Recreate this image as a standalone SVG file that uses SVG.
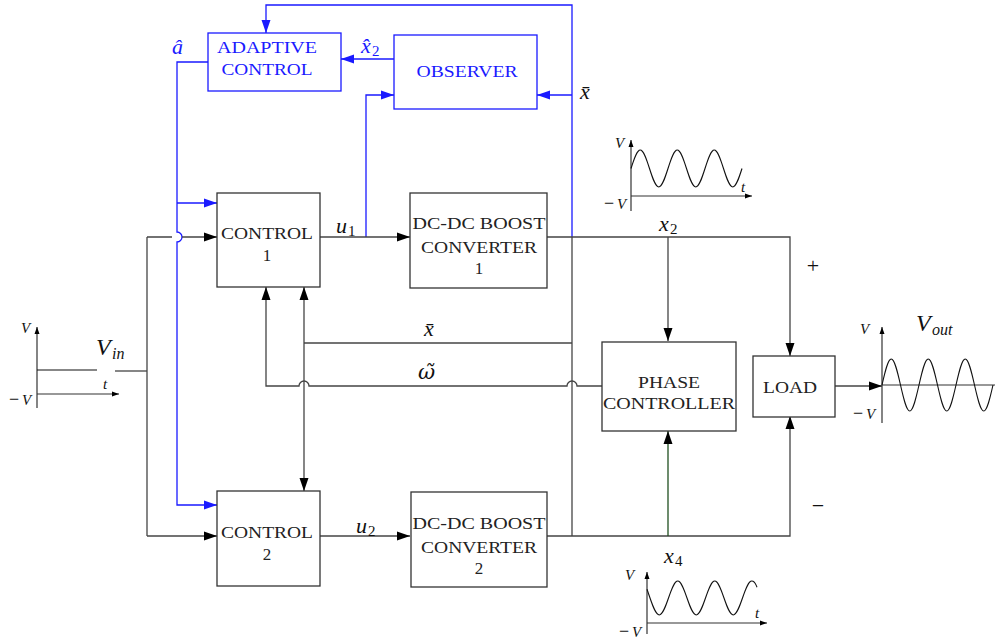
<svg xmlns="http://www.w3.org/2000/svg" width="995" height="642" viewBox="0 0 995 642">
<style>
.box{fill:#fff;stroke:#333;stroke-width:1.3}
.bbox{fill:#fff;stroke:#1a1aff;stroke-width:1.3}
.lbl{font-family:"Liberation Serif","DejaVu Serif",serif;font-size:17px;fill:#222;text-anchor:middle}
.blbl{font-family:"Liberation Serif","DejaVu Serif",serif;font-size:17px;fill:#1a1aff;text-anchor:middle}
.ln{fill:none;stroke:#444;stroke-width:1.3}
.bln{fill:none;stroke:#1a1aff;stroke-width:1.3}
.gln{fill:none;stroke:#1f4f1f;stroke-width:1.3}
.ax{fill:none;stroke:#333;stroke-width:1.2}
.wv{fill:none;stroke:#111;stroke-width:1.1}
.m{font-family:"Liberation Serif","DejaVu Serif",serif;font-style:italic;fill:#111}
.mb{font-family:"Liberation Serif","DejaVu Serif",serif;font-style:italic;fill:#1a1aff}
.sub{font-family:"Liberation Serif","DejaVu Serif",serif;fill:#111}
.subb{font-family:"Liberation Serif","DejaVu Serif",serif;fill:#1a1aff}
</style>
<defs>
<marker id="ak" markerUnits="userSpaceOnUse" markerWidth="14" markerHeight="10" refX="13" refY="5" orient="auto"><path d="M0,0.5 L13,5 L0,9.5 z" fill="#000"/></marker>
<marker id="ab" markerUnits="userSpaceOnUse" markerWidth="14" markerHeight="10" refX="13" refY="5" orient="auto"><path d="M0,0.5 L13,5 L0,9.5 z" fill="#1a1aff"/></marker>
<marker id="as" markerUnits="userSpaceOnUse" markerWidth="8" markerHeight="6" refX="7" refY="3" orient="auto"><path d="M0,0.5 L7,3 L0,5.5 z" fill="#000"/></marker>
</defs>

<g id="connectors">
<path class="bln" d="M572,237 V5 H266 V33" marker-end="url(#ab)"/>
<path class="bln" d="M572,95 H537" marker-end="url(#ab)"/>
<path class="bln" d="M394,59 H341" marker-end="url(#ab)"/>
<path class="bln" d="M366,237 V95 H394" marker-end="url(#ab)"/>
<path class="bln" d="M208,62 H177 V232 A5,5 0 0 1 177,242 V505 H217" marker-end="url(#ab)"/>
<path class="bln" d="M177,203 H217" marker-end="url(#ab)"/>
<path class="ln" d="M115,371 H147"/>
<path class="ln" d="M147,237 V536"/>
<path class="ln" d="M147,237 H172 M182,237 H217" marker-end="url(#ak)"/>
<path class="ln" d="M147,536 H217" marker-end="url(#ak)"/>
<path class="ln" d="M320,237 H410" marker-end="url(#ak)"/>
<path class="ln" d="M320,536 H410" marker-end="url(#ak)"/>
<path class="ln" d="M547,237 H790 V356" marker-end="url(#ak)"/>
<path class="ln" d="M668,237 V341" marker-end="url(#ak)"/>
<path class="ln" d="M547,536 H790 V416" marker-end="url(#ak)"/>
<path class="gln" d="M668,536 V431" marker-end="url(#ak)"/>
<path class="ln" d="M572,536 V237"/>
<path class="ln" d="M572,343 H304"/>
<path class="ln" d="M304,343 V287" marker-end="url(#ak)"/>
<path class="ln" d="M304,343 V491" marker-end="url(#ak)"/>
<path class="ln" d="M602,386 H577 A5,5 0 0 0 567,386 H309 A5,5 0 0 0 299,386 H266 V287" marker-end="url(#ak)"/>
<path class="ln" d="M835,386 H882" marker-end="url(#ak)"/>
</g>

<g id="adaptive-control">
<rect class="bbox" x="208" y="33" width="133" height="58"/>
<text class="blbl" x="267" y="53" textLength="100" lengthAdjust="spacingAndGlyphs">ADAPTIVE</text>
<text class="blbl" x="267" y="75" textLength="91" lengthAdjust="spacingAndGlyphs">CONTROL</text>
</g>
<g id="observer">
<rect class="bbox" x="394" y="35" width="143" height="74"/>
<text class="blbl" x="467" y="77" textLength="101" lengthAdjust="spacingAndGlyphs">OBSERVER</text>
</g>
<g id="control1">
<rect class="box" x="217" y="193" width="103" height="94"/>
<text class="lbl" x="267" y="239" textLength="92" lengthAdjust="spacingAndGlyphs">CONTROL</text>
<text class="lbl" x="267" y="261">1</text>
</g>
<g id="converter1">
<rect class="box" x="410" y="193" width="137" height="95"/>
<text class="lbl" x="479" y="229" textLength="133" lengthAdjust="spacingAndGlyphs">DC-DC BOOST</text>
<text class="lbl" x="479" y="253" textLength="116" lengthAdjust="spacingAndGlyphs">CONVERTER</text>
<text class="lbl" x="479" y="274">1</text>
</g>
<g id="control2">
<rect class="box" x="217" y="491" width="103" height="95"/>
<text class="lbl" x="267" y="538" textLength="92" lengthAdjust="spacingAndGlyphs">CONTROL</text>
<text class="lbl" x="267" y="560">2</text>
</g>
<g id="converter2">
<rect class="box" x="411" y="492" width="136" height="95"/>
<text class="lbl" x="479" y="529" textLength="133" lengthAdjust="spacingAndGlyphs">DC-DC BOOST</text>
<text class="lbl" x="479" y="553" textLength="116" lengthAdjust="spacingAndGlyphs">CONVERTER</text>
<text class="lbl" x="479" y="574">2</text>
</g>
<g id="phase-controller">
<rect class="box" x="602" y="342" width="134" height="89"/>
<text class="lbl" x="669" y="388" textLength="62" lengthAdjust="spacingAndGlyphs">PHASE</text>
<text class="lbl" x="669" y="409" textLength="132" lengthAdjust="spacingAndGlyphs">CONTROLLER</text>
</g>
<g id="load">
<rect class="box" x="753" y="356" width="82" height="61"/>
<text class="lbl" x="790" y="393" textLength="54" lengthAdjust="spacingAndGlyphs">LOAD</text>
</g>

<g id="labels">
<text class="mb" x="172" y="54" font-size="22">â</text>
<text class="mb" x="361" y="53" font-size="22">x̂</text><text class="subb" x="372" y="56" font-size="15">2</text>
<text class="m" x="580" y="99" font-size="22">x̄</text>
<text class="m" x="336" y="233" font-size="22">u</text><text class="sub" x="348" y="236" font-size="15">1</text>
<text class="m" x="659" y="231" font-size="22">x</text><text class="sub" x="670" y="234" font-size="15">2</text>
<text class="m" x="424" y="336" font-size="22">x̄</text>
<text x="418" y="379" font-size="21" font-style="italic" font-family="DejaVu Serif, serif" fill="#111">ω̃</text>
<text class="m" x="356" y="533" font-size="22">u</text><text class="sub" x="368" y="536" font-size="15">2</text>
<text class="m" x="664" y="563" font-size="22">x</text><text class="sub" x="675" y="566" font-size="15">4</text>
<text class="sub" x="813" y="273" font-size="22" text-anchor="middle">+</text>
<text class="sub" x="818" y="513" font-size="22" text-anchor="middle">−</text>
</g>

<g id="vin-wave">
<path class="ax" d="M37,408 V327" marker-end="url(#as)"/>
<path class="ax" d="M37,394 H119" marker-end="url(#as)"/>
<path class="wv" d="M37,370 H97"/>
<text class="m" x="21" y="333" font-size="15">V</text>
<text class="m" x="103" y="389" font-size="15">t</text>
<text class="sub" x="9" y="405" font-size="18">−</text><text class="m" x="22" y="405" font-size="15">V</text>
<text class="m" x="96" y="355" font-size="24">V</text><text class="m" x="112" y="359" font-size="16">in</text>
</g>

<g id="x2-wave">
<path class="ax" d="M631,211 V140" marker-end="url(#as)"/>
<path class="ax" d="M631,196 H752" marker-end="url(#as)"/>
<path class="wv" d="M631,168.5 C634.09,158.79 636.92,150 640.25,150 S646.41,158.79 649.5,168.5 S655.42,187 658.75,187 S664.91,178.21 668,168.5 S673.92,150 677.25,150 S683.41,158.79 686.5,168.5 S692.42,187 695.75,187 S701.91,178.21 705,168.5 S710.92,150 714.25,150 S720.41,158.79 723.5,168.5 S729.42,187 732.75,187 S738.91,178.21 742,168.5"/>
<text class="m" x="615" y="148" font-size="15">V</text>
<text class="m" x="741" y="192" font-size="15">t</text>
<text class="sub" x="604" y="209" font-size="18">−</text><text class="m" x="617" y="209" font-size="15">V</text>
</g>

<g id="vout-wave">
<path class="ax" d="M882,423 V327" marker-end="url(#as)"/>
<path class="ax" d="M882,385 H995"/>
<path class="wv" d="M882,385 C885.09,371.35 887.92,359 891.25,359 S897.41,371.35 900.5,385 S906.42,411 909.75,411 S915.91,398.65 919,385 S924.92,359 928.25,359 S934.41,371.35 937.5,385 S943.42,411 946.75,411 S952.91,398.65 956,385 S961.92,359 965.25,359 S971.41,371.35 974.5,385 S980.42,411 983.75,411 S989.91,398.65 993,385"/>
<text class="m" x="860" y="334" font-size="15">V</text>
<text class="sub" x="853" y="419" font-size="18">−</text><text class="m" x="866" y="419" font-size="15">V</text>
<text class="m" x="916" y="331" font-size="24">V</text><text class="m" x="932" y="335" font-size="16">out</text>
</g>

<g id="x4-wave">
<path class="ax" d="M647,634 V572" marker-end="url(#as)"/>
<path class="ax" d="M647,623 H767" marker-end="url(#as)"/>
<path class="wv" d="M647,589.3 L650,598 C653.09,606.93 655.92,615 659.25,615 S665.41,606.93 668.5,598 S674.42,581 677.75,581 S683.91,589.07 687,598 S692.92,615 696.25,615 S702.41,606.93 705.5,598 S711.42,581 714.75,581 S720.91,589.07 724,598 S729.92,615 733.25,615 S739.41,606.93 742.5,598 S748.42,581 751.75,581 S755.8,584.5 757,587.3"/>
<text class="m" x="625" y="580" font-size="15">V</text>
<text class="m" x="755" y="618" font-size="15">t</text>
<text class="sub" x="619" y="637" font-size="18">−</text><text class="m" x="632" y="637" font-size="15">V</text>
</g>
</svg>
